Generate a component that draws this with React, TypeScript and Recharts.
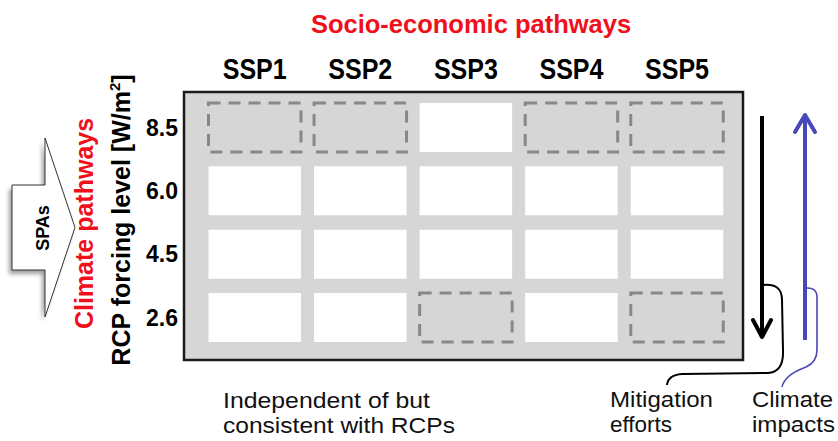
import React from 'react';
import { ScatterChart, Scatter, XAxis, YAxis, ReferenceArea } from 'recharts';

// ---- data ----
const ssps = ['SSP1', 'SSP2', 'SSP3', 'SSP4', 'SSP5'];
const rcpLevels = ['2.6', '4.5', '6.0', '8.5'];
// SSP x RCP combinations that are shaded with a dashed outline
const dashedCombos = [
  ['SSP1', '8.5'],
  ['SSP2', '8.5'],
  ['SSP4', '8.5'],
  ['SSP5', '8.5'],
  ['SSP3', '2.6'],
  ['SSP5', '2.6'],
];
const cells = ssps.flatMap((s, i) =>
  rcpLevels.map((r, j) => ({
    ssp: s,
    rcp: r,
    x: i,
    y: j,
    dashed: dashedCombos.some(([a, b]) => a === s && b === r),
  }))
);
const xTicks = ssps.map((_, i) => i);
const yTicks = rcpLevels.map((_, j) => j);

// ---- styling ----
const FONT = 'Liberation Sans, Arial, Helvetica, sans-serif';
const RED = '#f0101c';
const BLUE = '#4848b8';
const GRAY_BG = '#d6d6d6';
const DASH_GRAY = '#888888';
const X_DOMAIN: [number, number] = [-0.67, 4.625];
const Y_DOMAIN: [number, number] = [-0.671, 3.561];
const CELL_HALF_W = 0.438;
const CELL_HALF_H = 0.387;

const SspTick = (props: any) => {
  const { x, y, payload } = props;
  return (
    <text
      x={x}
      y={y - 13}
      textAnchor="middle"
      fontFamily={FONT}
      fontWeight="bold"
      fontSize={29}
      fill="#000"
      textLength={64}
      lengthAdjust="spacingAndGlyphs"
    >
      {ssps[payload.value]}
    </text>
  );
};

const RcpTick = (props: any) => {
  const { x, y, payload } = props;
  return (
    <text
      x={x - 6}
      y={y}
      dy="0.36em"
      textAnchor="end"
      fontFamily={FONT}
      fontWeight="bold"
      fontSize={23}
      fill="#000"
    >
      {rcpLevels[payload.value]}
    </text>
  );
};

const Overlay = () => (
  <svg
    width={838}
    height={441}
    style={{ position: 'absolute', left: 0, top: 0, pointerEvents: 'none' }}
  >
    <defs>
      <filter id="shadowBlur" x="-30%" y="-30%" width="160%" height="160%">
        <feGaussianBlur stdDeviation="2" />
      </filter>
    </defs>
    {/* top title */}
    <text x={471} y={33} textAnchor="middle" fontFamily={FONT} fontWeight="bold" fontSize={25.5} fill={RED}>
      Socio-economic pathways
    </text>
    {/* SPAs block arrow */}
    <polygon
      points="12,185 45,185 45,138 75,227.5 45,317 45,270 12,270"
      transform="translate(-3,4)"
      fill="#777"
      opacity={0.7}
      filter="url(#shadowBlur)"
    />
    <polygon points="12,185 45,185 45,138 75,227.5 45,317 45,270 12,270" fill="#fff" stroke="#333" strokeWidth={1} />
    <text
      transform="translate(43,228) rotate(-90)"
      textAnchor="middle"
      dominantBaseline="central"
      fontFamily={FONT}
      fontWeight="bold"
      fontSize={18}
      fill="#000"
    >
      SPAs
    </text>
    {/* rotated axis titles */}
    <text transform="translate(93,223.5) rotate(-90)" textAnchor="middle" fontFamily={FONT} fontWeight="bold" fontSize={25} fill={RED}>
      Climate pathways
    </text>
    <text transform="translate(130,220) rotate(-90)" textAnchor="middle" fontFamily={FONT} fontWeight="bold" fontSize={25} fill="#000">
      RCP forcing level [W/m<tspan fontSize={15} dy={-10}>2</tspan>
      <tspan dy={10}>]</tspan>
    </text>
    {/* mitigation arrow (down) */}
    <line x1={762} y1={116} x2={762} y2={336} stroke="#000" strokeWidth={4} />
    <polyline points="753,320 762,337 771,320" fill="none" stroke="#000" strokeWidth={4} strokeLinejoin="round" strokeLinecap="round" />
    {/* climate impacts arrow (up) */}
    <line x1={805} y1={117} x2={805} y2={340} stroke={BLUE} strokeWidth={4} />
    <polyline points="795,132 805,115 815,132" fill="none" stroke={BLUE} strokeWidth={4} strokeLinejoin="round" strokeLinecap="round" />
    {/* brackets */}
    <path
      d="M 763 285 Q 782 283 782 300 L 783 350 Q 784 372 768 373 L 682 374 Q 668 375 667 385"
      fill="none"
      stroke="#000"
      strokeWidth={2}
    />
    <path
      d="M 806 288 Q 818 287 817 300 L 817 350 Q 817 362 806 367 Q 793 372 788 377 Q 783 382 782 387"
      fill="none"
      stroke={BLUE}
      strokeWidth={1.6}
    />
    {/* bottom annotations */}
    <g fontFamily={FONT} fontSize={21.5} fill="#111">
      <text x={223} y={408} textLength={207} lengthAdjust="spacingAndGlyphs">Independent of but</text>
      <text x={223} y={433} textLength={232} lengthAdjust="spacingAndGlyphs">consistent with RCPs</text>
      <text x={610} y={407} textLength={103} lengthAdjust="spacingAndGlyphs">Mitigation</text>
      <text x={610} y={432} textLength={62} lengthAdjust="spacingAndGlyphs">efforts</text>
      <text x={752} y={407} textLength={81} lengthAdjust="spacingAndGlyphs">Climate</text>
      <text x={752} y={432} textLength={83} lengthAdjust="spacingAndGlyphs">impacts</text>
    </g>
  </svg>
);

export default function App() {
  return (
    <div style={{ position: 'relative', width: 838, height: 441, background: '#fff' }}>
      <style>{'body{margin:0}'}</style>
      <ScatterChart width={838} height={441} margin={{ top: 52, right: 95, bottom: 81, left: 124 }}>
        <XAxis
          type="number"
          dataKey="x"
          orientation="top"
          height={40}
          domain={X_DOMAIN}
          allowDataOverflow
          ticks={xTicks}
          interval={0}
          axisLine={false}
          tickLine={false}
          tickSize={0}
          tickMargin={0}
          tick={<SspTick />}
        />
        <YAxis
          type="number"
          dataKey="y"
          width={60}
          domain={Y_DOMAIN}
          allowDataOverflow
          ticks={yTicks}
          interval={0}
          axisLine={false}
          tickLine={false}
          tickSize={0}
          tickMargin={0}
          tick={<RcpTick />}
        />
        <ReferenceArea
          x1={X_DOMAIN[0]}
          x2={X_DOMAIN[1]}
          y1={Y_DOMAIN[0]}
          y2={Y_DOMAIN[1]}
          fill={GRAY_BG}
          fillOpacity={1}
          stroke="#1a1a1a"
          strokeWidth={2.5}
          ifOverflow="visible"
        />
        {cells.map((c) => (
          <ReferenceArea
            key={c.ssp + c.rcp}
            x1={c.x - CELL_HALF_W}
            x2={c.x + CELL_HALF_W}
            y1={c.y - CELL_HALF_H}
            y2={c.y + CELL_HALF_H}
            fill={c.dashed ? GRAY_BG : '#ffffff'}
            fillOpacity={1}
            stroke={c.dashed ? DASH_GRAY : 'none'}
            strokeWidth={c.dashed ? 3 : 0}
            strokeDasharray={c.dashed ? '12 8' : undefined}
          />
        ))}
        <Scatter data={cells} isAnimationActive={false} shape={() => <g />} />
      </ScatterChart>
      <Overlay />
    </div>
  );
}
